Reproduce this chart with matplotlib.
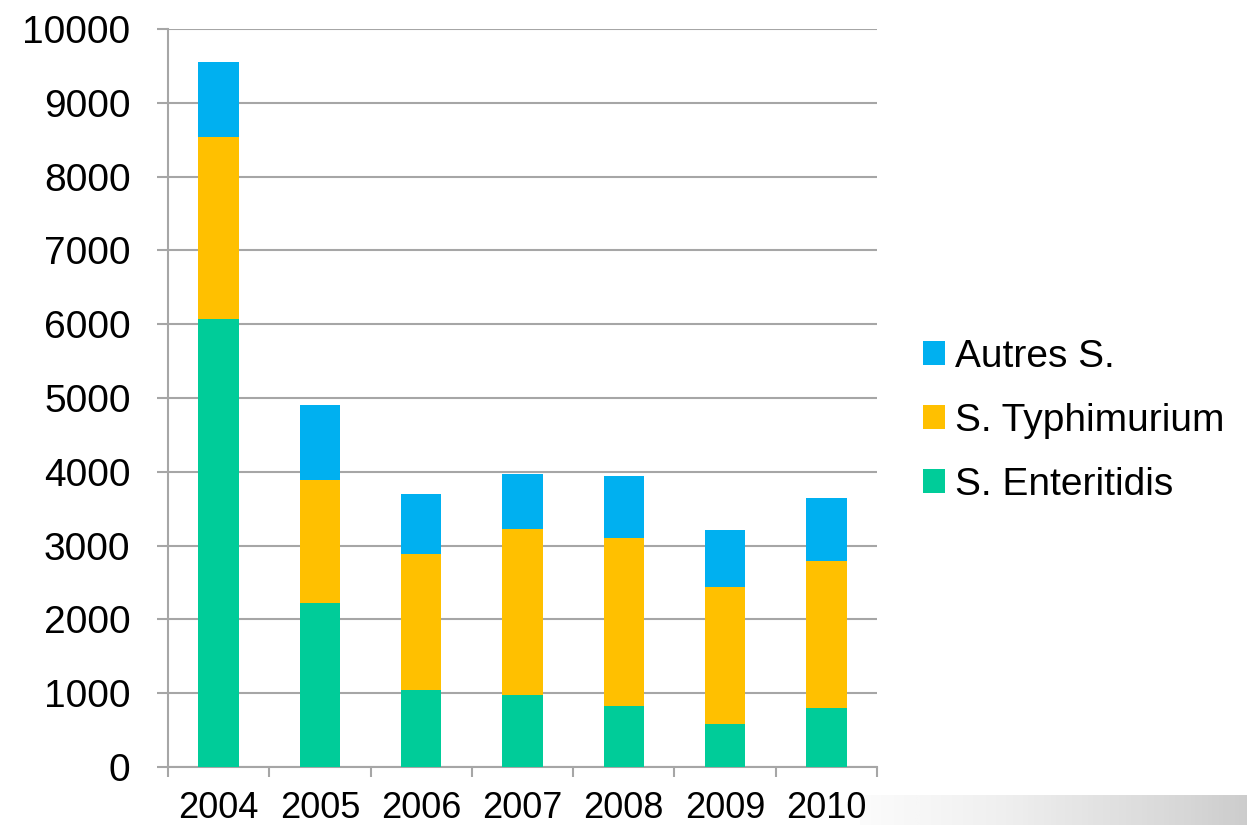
import numpy as np
import matplotlib.pyplot as plt

plt.rcParams['font.family'] = ['Liberation Sans', 'DejaVu Sans']

# data
years = ["2004", "2005", "2006", "2007", "2008", "2009", "2010"]
enteritidis = [6070, 2222, 1047, 980, 821, 583, 803]
typhimurium = [2467, 1671, 1834, 2249, 2286, 1860, 1988]
autres = [1010, 1012, 818, 741, 836, 763, 854]

c_ent = "#00CC99"
c_typ = "#FFC000"
c_aut = "#00B0F0"
grid_c = "#A6A6A6"

fig = plt.figure(figsize=(12.47, 8.25), dpi=100)

# grey gradient strip bottom right
gax = fig.add_axes([860 / 1247, 0, 1 - 860 / 1247, 30 / 825], zorder=0)
grad = np.linspace(0, 1, 256).reshape(1, -1)
gax.imshow(grad, aspect="auto", cmap="Greys", vmin=-0.1, vmax=3.5, extent=[0, 1, 0, 1])
gax.axis("off")

ax = fig.add_axes([168 / 1247, (825 - 767) / 825, (877 - 168) / 1247, (767 - 29) / 825], zorder=1)
ax.patch.set_alpha(0)

x = np.arange(len(years))
ent = np.array(enteritidis)
typ = np.array(typhimurium)
aut = np.array(autres)

ax.bar(x, ent, width=0.4, color=c_ent, label="S. Enteritidis", zorder=3)
ax.bar(x, typ, width=0.4, bottom=ent, color=c_typ, label="S. Typhimurium", zorder=3)
ax.bar(x, aut, width=0.4, bottom=ent + typ, color=c_aut, label="Autres S.", zorder=3)

ax.set_xlim(-0.5, len(years) - 0.5)
ax.set_ylim(0, 10000)
ax.set_yticks(np.arange(0, 10001, 1000))
ax.yaxis.grid(True, color=grid_c, linewidth=1.5, zorder=0)
ax.set_axisbelow(True)

# x ticks at category boundaries, labels centred
ax.set_xticks(np.arange(-0.5, len(years), 1.0))
ax.set_xticklabels([])
ax.set_xticks(x, minor=True)
ax.set_xticklabels(years, minor=True)
ax.tick_params(axis="x", which="major", length=7.5, width=1.5, color=grid_c)
ax.tick_params(axis="x", which="minor", length=0, pad=17, labelsize=26)
ax.tick_params(axis="y", length=8, width=1.5, color=grid_c, labelsize=28, pad=19)

for s in ["top", "right"]:
    ax.spines[s].set_visible(False)
for s in ["left", "bottom"]:
    ax.spines[s].set_color(grid_c)
    ax.spines[s].set_linewidth(1.5)

handles, labels = ax.get_legend_handles_labels()
fig.legend(handles[::-1], labels[::-1], loc="center left",
           bbox_to_anchor=(907 / 1247, (825 - 421) / 825), frameon=False,
           fontsize=28, handlelength=0.57, handleheight=0.57, handletextpad=0.26,
           labelspacing=0.72, borderaxespad=0)

plt.savefig("out.png", dpi=100)
